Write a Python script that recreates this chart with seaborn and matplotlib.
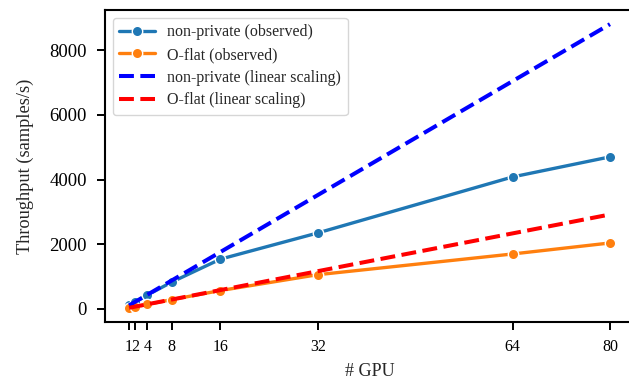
import matplotlib
matplotlib.use("Agg")
import matplotlib.pyplot as plt
import seaborn as sns
import pandas as pd

# GPU counts and measured / ideal throughput (samples/s)
gpus = [1, 2, 4, 8, 16, 32, 64, 80]
nonprivate_observed = [110, 220, 430, 830, 1540, 2350, 4080, 4700]
oflat_observed = [37, 72, 140, 290, 570, 1060, 1700, 2040]
nonprivate_linear = [110 * g for g in gpus]
oflat_linear = [36.5 * g for g in gpus]

x_ticks = [1, 2, 4, 8, 16, 32, 64, 80]
y_ticks = [0, 2000, 4000, 6000, 8000]

sns.set_theme(style="ticks")
plt.rcParams["font.family"] = ["Liberation Serif", "DejaVu Serif"]

df = pd.DataFrame({
    "gpus": gpus,
    "np_obs": nonprivate_observed,
    "of_obs": oflat_observed,
    "np_lin": nonprivate_linear,
    "of_lin": oflat_linear,
})

fig = plt.figure(figsize=(6.29, 3.85), dpi=100)
ax = fig.add_axes([105 / 629, 63 / 385, 529 / 629, 312 / 385])

solid_kw = dict(linewidth=2.4, marker="o", markersize=7.5,
                markeredgecolor="white", markeredgewidth=1.0)
dash_kw = dict(linewidth=2.9, linestyle="--")

sns.lineplot(data=df, x="gpus", y="np_obs", ax=ax, color="#1f77b4",
             label="non-private (observed)", **solid_kw)
sns.lineplot(data=df, x="gpus", y="of_obs", ax=ax, color="#ff7f0e",
             label="O-flat (observed)", **solid_kw)
sns.lineplot(data=df, x="gpus", y="np_lin", ax=ax, color="blue",
             label="non-private (linear scaling)", **dash_kw)
sns.lineplot(data=df, x="gpus", y="of_lin", ax=ax, color="red",
             label="O-flat (linear scaling)", **dash_kw)

ax.set_xticks(x_ticks)
ax.set_xticklabels([str(t) for t in x_ticks])
ax.set_yticks(y_ticks)
ax.set_xlabel("# GPU", fontsize=13, labelpad=6)
ax.set_ylabel("Throughput (samples/s)", fontsize=13.2, labelpad=11)
ax.tick_params(axis="both", length=6, width=1.4, color="black",
               labelcolor="black")
ax.tick_params(axis="x", labelsize=11.5, pad=6)
ax.tick_params(axis="y", labelsize=13.5, pad=7)
for s in ax.spines.values():
    s.set_color("black")
    s.set_linewidth(1.5)

leg = ax.legend(loc="upper left", fontsize=11.5, handlelength=2.2,
                labelspacing=0.42, borderaxespad=0.5)

fig.savefig("out.png", dpi=100)
